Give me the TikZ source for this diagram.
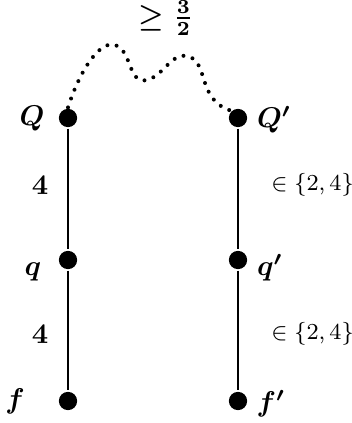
\documentclass[tikz,border=0pt]{standalone}
\usepackage{amsfonts,amssymb,amsmath}
\usepackage{tikz}
\usetikzlibrary{arrows.meta}

\tikzset{
  vtx/.style={circle,fill=black,inner sep=0pt,minimum size=6.4pt},
  lbl/.style={font=\boldmath},
  setlbl/.style={font=\footnotesize,anchor=west,inner sep=0pt}
}

\begin{document}
\begin{tikzpicture}[x=0.35pt,y=-0.35pt,line width=1pt]
\useasboundingbox(0,0)rectangle(352,423);
\node[vtx](Q)at(68,118){};
\node[vtx](q)at(68,260){};
\node[vtx](f)at(68,401){};
\node[vtx](Qp)at(238,118){};
\node[vtx](qp)at(238,260){};
\node[vtx](fp)at(238,401){};
\draw(Q)--(q)--(f);
\draw(Qp)--(qp)--(fp);
\draw[line width=1.4pt,line cap=round,dash pattern=on 0pt off 3.3pt](Q.north)..controls(80,70)and(100,40)..(115,45)
  ..controls(132,50)and(128,85)..(147,80)..controls(165,75)and(172,50)..(190,57)
  ..controls(208,64)and(198,100)..(Qp.north west);
\node[lbl](lQ)at(32,118){$Q$};
\node[lbl](lq)at(33,272){$q$};
\node[lbl](lf)at(15,401){$f$};
\node[lbl](lQp)at(274,120){$Q'$};
\node[lbl](lqp)at(270,268){$q'$};
\node[lbl](lfp)at(271,404){$f'$};
\node[lbl](w1)at(40,185){$4$};
\node[lbl](w2)at(40,334){$4$};
\node[setlbl](w3)at(270,185){$\in\{2,4\}$};
\node[setlbl](w4)at(270,334){$\in\{2,4\}$};
\node[lbl,inner sep=0pt](top)at(166,18){$\geq\tfrac{3}{2}$};
\end{tikzpicture}
\end{document}
